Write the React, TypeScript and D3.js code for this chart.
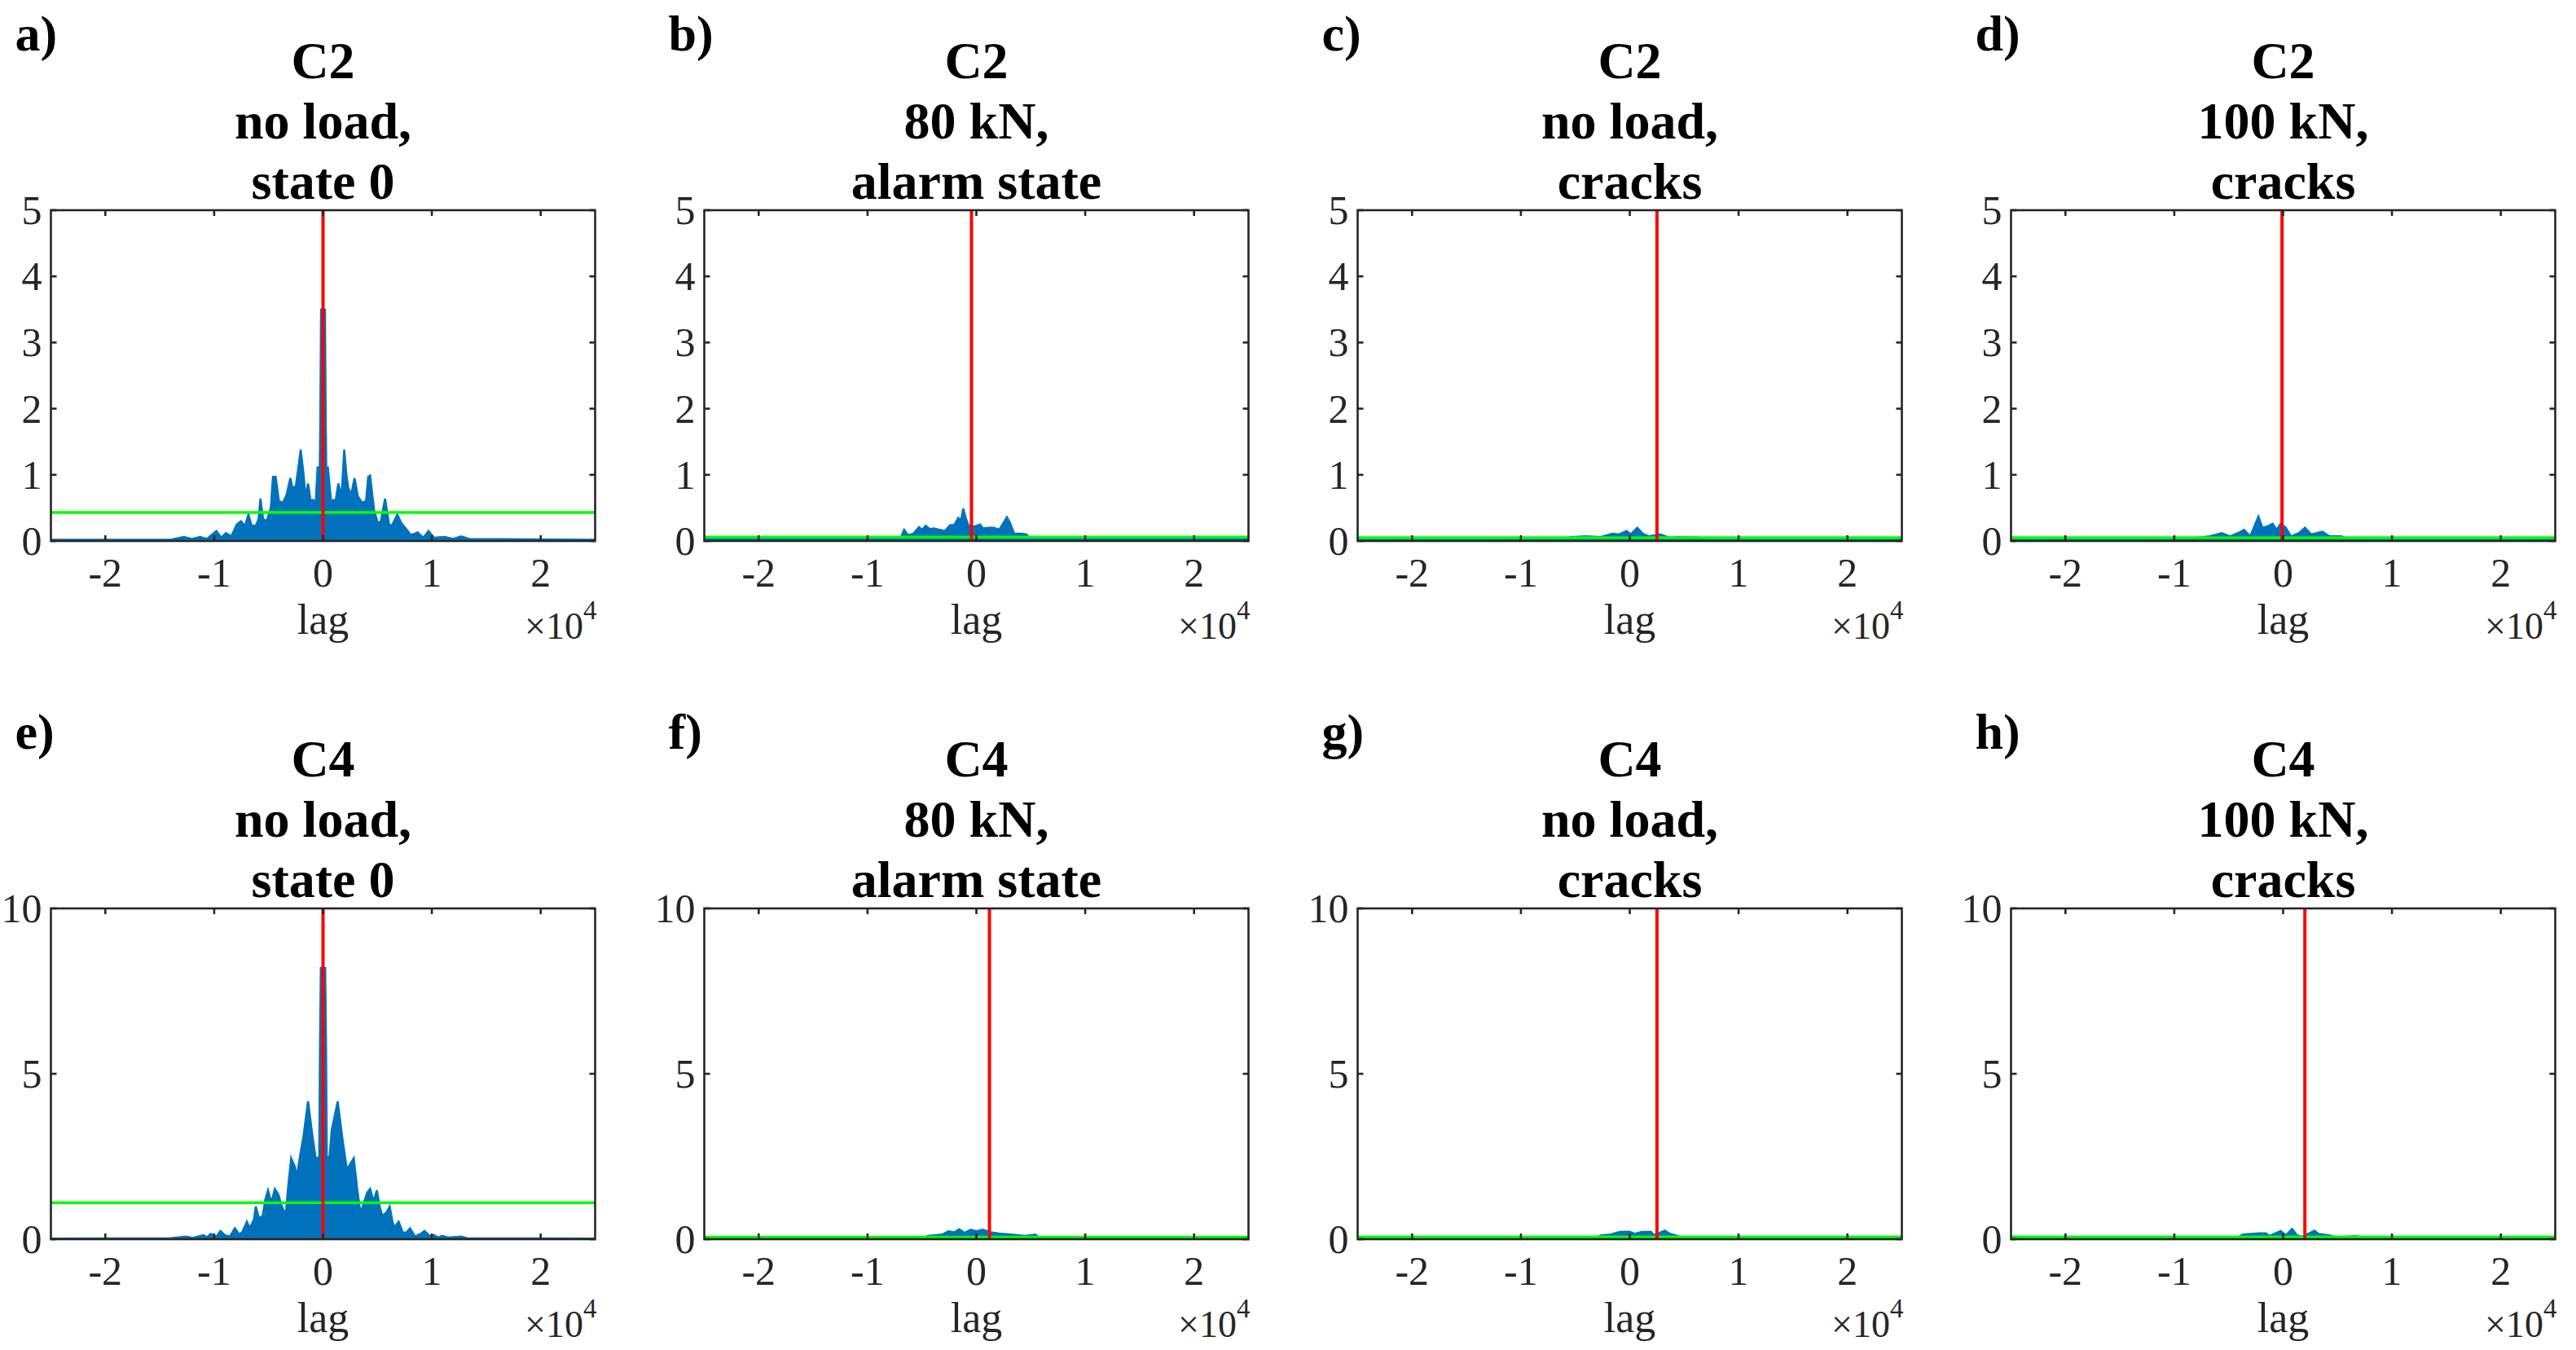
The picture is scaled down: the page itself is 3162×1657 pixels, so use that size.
import React from 'react';
import * as d3 from 'd3';

// ---- data (lag, |xcorr|) ----
const titles = [
  ['C2', 'no load,', 'state 0'],
  ['C2', '80 kN,', 'alarm state'],
  ['C2', 'no load,', 'cracks'],
  ['C2', '100 kN,', 'cracks'],
  ['C4', 'no load,', 'state 0'],
  ['C4', '80 kN,', 'alarm state'],
  ['C4', 'no load,', 'cracks'],
  ['C4', '100 kN,', 'cracks'],
];
const panelLetters = ['a)', 'b)', 'c)', 'd)', 'e)', 'f)', 'g)', 'h)'];
const xDomain = [-25000, 25000];
const xTicks = [-20000, -10000, 0, 10000, 20000];
const yTicksTop = [0, 1, 2, 3, 4, 5];
const yTicksBottom = [0, 5, 10];
const redLag = [0, -450, 2500, -100, 0, 1200, 2500, 2000];
const greenLevel = [0.43, 0.06, 0.05, 0.05, 1.1, 0.06, 0.07, 0.07];

const seriesA: [number, number][] = [
  [-25000, 0.02], [-14000, 0.02], [-12800, 0.06], [-12050, 0.03], [-11300, 0.06], [-10675, 0.03],
  [-9800, 0.15], [-9350, 0.05], [-8925, 0.12], [-8425, 0.07], [-7925, 0.25], [-7550, 0.30],
  [-7175, 0.23], [-6850, 0.40], [-6550, 0.23], [-6175, 0.23], [-5925, 0.33], [-5750, 0.64],
  [-5500, 0.33], [-5175, 0.30], [-4800, 0.50], [-4600, 0.97], [-4350, 0.97], [-4050, 0.60],
  [-3675, 0.58], [-3350, 0.70], [-3000, 0.95], [-2800, 0.80], [-2500, 0.83], [-2300, 1.07],
  [-2050, 1.38], [-1800, 1.03], [-1600, 0.66], [-1375, 0.87], [-1125, 0.60], [-925, 0.62],
  [-675, 0.58], [-500, 1.11], [-300, 1.11], [-250, 1.8], [-180, 3.5], [180, 3.5], [250, 1.8],
  [300, 1.11], [450, 1.11], [750, 0.58], [950, 0.62], [1150, 0.60], [1400, 0.87], [1700, 0.68],
  [1950, 1.38], [2150, 1.0], [2325, 0.80], [2575, 0.70], [2900, 0.95], [3200, 0.68], [3575, 0.58],
  [3950, 0.60], [4150, 0.97], [4325, 0.99], [4700, 0.46], [5075, 0.25], [5325, 0.31], [5700, 0.64],
  [6075, 0.25], [6325, 0.23], [6825, 0.40], [7200, 0.27], [7700, 0.17], [8075, 0.09], [8700, 0.13],
  [9200, 0.05], [9700, 0.15], [10200, 0.05], [11200, 0.06], [11950, 0.03], [12700, 0.07],
  [13450, 0.03], [25000, 0.02],
];
const seriesB: [number, number][] = [
  [-25000, 0.03], [-7000, 0.03], [-6640, 0.17], [-6280, 0.09], [-5780, 0.11], [-5280, 0.21],
  [-4960, 0.17], [-4660, 0.23], [-4280, 0.18], [-3910, 0.19], [-3410, 0.17], [-2910, 0.15],
  [-2410, 0.24], [-2040, 0.24], [-1660, 0.35], [-1410, 0.31], [-1210, 0.49], [-960, 0.34],
  [-710, 0.23], [-160, 0.22], [340, 0.25], [600, 0.19], [1100, 0.20], [1600, 0.20], [2100, 0.17],
  [2470, 0.27], [2800, 0.36], [3100, 0.27], [3470, 0.11], [4100, 0.11], [4600, 0.10],
  [5000, 0.03], [25000, 0.03],
];
const seriesC: [number, number][] = [
  [-25000, 0.02], [-6000, 0.02], [-5480, 0.06], [-4000, 0.07], [-2700, 0.06], [-1580, 0.11],
  [-1000, 0.10], [-280, 0.15], [90, 0.10], [690, 0.20], [1200, 0.11], [1770, 0.07], [2770, 0.10],
  [3630, 0.05], [4560, 0.06], [6400, 0.05], [7000, 0.02], [25000, 0.02],
];
const seriesD: [number, number][] = [
  [-25000, 0.02], [-8500, 0.02], [-7860, 0.05], [-6740, 0.07], [-5630, 0.12], [-4880, 0.07],
  [-4140, 0.12], [-3580, 0.17], [-3020, 0.07], [-2270, 0.37], [-1900, 0.20], [-1450, 0.22],
  [-970, 0.26], [-600, 0.17], [-220, 0.26], [260, 0.20], [710, 0.07], [1450, 0.12], [2010, 0.20],
  [2570, 0.10], [3610, 0.14], [4250, 0.07], [5370, 0.07], [6000, 0.02], [25000, 0.02],
];
const seriesE: [number, number][] = [
  [-25000, 0.02], [-14000, 0.03], [-12550, 0.08], [-12000, 0.04], [-11000, 0.12], [-10650, 0.06],
  [-10300, 0.16], [-9800, 0.08], [-9425, 0.25], [-9000, 0.12], [-8550, 0.08], [-8100, 0.33],
  [-7700, 0.15], [-7425, 0.21], [-7000, 0.53], [-6750, 0.35], [-6550, 0.45], [-6350, 0.6],
  [-6175, 0.99], [-5900, 0.65], [-5550, 0.70], [-5300, 1.2], [-5050, 1.48], [-4750, 1.1],
  [-4425, 1.52], [-4100, 1.35], [-3800, 1.0], [-3425, 0.74], [-3200, 1.6], [-2925, 2.45],
  [-2600, 2.2], [-2400, 1.9], [-2175, 2.39], [-1800, 3.1], [-1375, 4.17], [-1000, 3.2],
  [-700, 2.5], [-550, 2.43], [-350, 2.5], [-280, 5.8], [-200, 8.2], [200, 8.2], [280, 5.8],
  [350, 2.5], [575, 2.43], [800, 3.3], [1350, 4.17], [1800, 3.0], [2200, 2.1], [2550, 2.3],
  [2825, 2.45], [3150, 1.5], [3450, 0.78], [3750, 1.1], [4050, 1.4], [4325, 1.52], [4650, 1.15],
  [4950, 1.48], [5200, 1.0], [5450, 0.70], [5800, 0.8], [6125, 0.99], [6400, 0.5], [6575, 0.37],
  [6950, 0.53], [7325, 0.21], [7650, 0.2], [8000, 0.33], [8450, 0.08], [8900, 0.15], [9325, 0.25],
  [9800, 0.1], [10200, 0.12], [10600, 0.05], [10950, 0.10], [11500, 0.05], [12700, 0.08],
  [13200, 0.03], [25000, 0.02],
];
const seriesF: [number, number][] = [
  [-25000, 0.03], [-5000, 0.03], [-4440, 0.10], [-3140, 0.14], [-2580, 0.24], [-2030, 0.21],
  [-1580, 0.30], [-1100, 0.19], [-540, 0.29], [20, 0.24], [580, 0.29], [1320, 0.21], [2060, 0.17],
  [3180, 0.14], [4480, 0.10], [5410, 0.14], [5780, 0.05], [6200, 0.03], [25000, 0.03],
];
const seriesG: [number, number][] = [
  [-25000, 0.03], [-3200, 0.03], [-2640, 0.12], [-1770, 0.14], [-900, 0.22], [-30, 0.23],
  [470, 0.16], [1090, 0.22], [1960, 0.22], [2210, 0.12], [3210, 0.26], [3710, 0.16], [4210, 0.12],
  [4700, 0.06], [5200, 0.03], [25000, 0.03],
];
const seriesH: [number, number][] = [
  [-25000, 0.03], [-4300, 0.03], [-3710, 0.14], [-2220, 0.18], [-1600, 0.18], [-1220, 0.10],
  [-230, 0.25], [270, 0.12], [820, 0.31], [1270, 0.12], [1760, 0.08], [2880, 0.26], [3250, 0.16],
  [4240, 0.12], [5000, 0.05], [6730, 0.10], [7200, 0.03], [25000, 0.03],
];
const allSeries = [seriesA, seriesB, seriesC, seriesD, seriesE, seriesF, seriesG, seriesH];

// ---- layout ----
const W = 3162;
const H = 1657;
const left0 = 62.5;
const colStep = 802;
const top0 = 258;
const rowStep = 857;
const plotW = 668;
const plotH = 406;
const serif = '"Liberation Serif", "Times New Roman", serif';
const axisColor = '#262626';

function Panel({ idx }: { idx: number }) {
  const col = idx % 4;
  const row = Math.floor(idx / 4);
  const left = left0 + col * colStep;
  const top = top0 + row * rowStep;
  const yTicks = row === 0 ? yTicksTop : yTicksBottom;

  const x = d3.scaleLinear().domain(xDomain).range([0, plotW]);
  const y = d3.scaleLinear().domain([0, yTicks[yTicks.length - 1]]).range([plotH, 0]);

  const area = d3.area<[number, number]>()
    .x(d => x(d[0]))
    .y0(y(0))
    .y1(d => y(d[1]));
  const line = d3.line<[number, number]>()
    .x(d => x(d[0]))
    .y(d => y(d[1]));

  const data = allSeries[idx];
  const tickLen = 7;

  return (
    <g transform={`translate(${left},${top})`}>
      {/* panel letter and title */}
      <text x={-44} y={-196} fontFamily={serif} fontWeight="bold" fontSize={62} fill="#000">
        {panelLetters[idx]}
      </text>
      {titles[idx].map((t, i) => (
        <text key={i} x={plotW / 2} y={-162 + i * 74} textAnchor="middle"
          fontFamily={serif} fontWeight="bold" fontSize={64} fill="#000">{t}</text>
      ))}

      {/* cross-correlation */}
      <path d={area(data) || ''} fill="#0072BD" />
      <path d={line(data) || ''} fill="none" stroke="#0072BD" strokeWidth={2.5} />

      {/* threshold and peak lag */}
      <line x1={0} x2={plotW} y1={y(greenLevel[idx])} y2={y(greenLevel[idx])}
        stroke="#00FF00" strokeWidth={3.5} />
      <line x1={x(redLag[idx])} x2={x(redLag[idx])} y1={0} y2={plotH}
        stroke="#FF0000" strokeWidth={4} />

      {/* box and ticks */}
      <rect x={0} y={0} width={plotW} height={plotH} fill="none" stroke={axisColor} strokeWidth={2.6} />
      {xTicks.map(t => (
        <g key={'x' + t}>
          <line x1={x(t)} x2={x(t)} y1={plotH} y2={plotH - tickLen} stroke={axisColor} strokeWidth={2.6} />
          <line x1={x(t)} x2={x(t)} y1={0} y2={tickLen} stroke={axisColor} strokeWidth={2.6} />
          <text x={x(t)} y={plotH + 56} textAnchor="middle" fontFamily={serif} fontSize={50} fill={axisColor}>
            {d3.format('d')(t / 10000).replace('−', '-')}
          </text>
        </g>
      ))}
      {yTicks.map(t => (
        <g key={'y' + t}>
          <line x1={0} x2={tickLen} y1={y(t)} y2={y(t)} stroke={axisColor} strokeWidth={2.6} />
          <line x1={plotW} x2={plotW - tickLen} y1={y(t)} y2={y(t)} stroke={axisColor} strokeWidth={2.6} />
          <text x={-11} y={y(t)} dy="0.34em" textAnchor="end" fontFamily={serif} fontSize={50} fill={axisColor}>
            {t}
          </text>
        </g>
      ))}

      {/* axis label and exponent */}
      <text x={plotW / 2} y={plotH + 114} textAnchor="middle" fontFamily={serif} fontSize={52} fill={axisColor}>
        lag
      </text>
      <text x={plotW + 2} y={plotH + 120} textAnchor="end" fontFamily={serif} fontSize={46} fill={axisColor}>
        ×10<tspan fontSize={33} dy={-24}>4</tspan>
      </text>
    </g>
  );
}

export default function App() {
  return (
    <svg width={W} height={H} style={{ position: 'absolute', left: 0, top: 0, background: '#fff' }}>
      <rect width={W} height={H} fill="#fff" />
      {allSeries.map((_, i) => <Panel key={i} idx={i} />)}
    </svg>
  );
}
